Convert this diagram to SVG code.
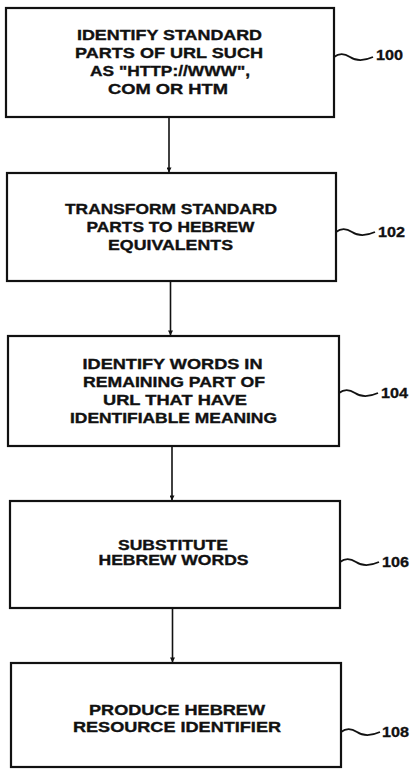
<svg xmlns="http://www.w3.org/2000/svg" width="413" height="769" viewBox="0 0 413 769">
<defs>
<style>
.box{fill:#fff;stroke:#111;stroke-width:2.2}
.t{font-family:"Liberation Sans",Arial,sans-serif;font-weight:bold;font-size:15px;fill:#111;stroke:#111;stroke-width:0.35;text-anchor:middle}
.lbl{font-family:"Liberation Sans",Arial,sans-serif;font-weight:bold;font-size:14px;fill:#111;stroke:#111;stroke-width:0.3}
.sq{fill:none;stroke:#111;stroke-width:1.8}
.con{fill:none;stroke:#111;stroke-width:1.6}
</style>
<marker id="ah" viewBox="0 0 6 6" refX="5.5" refY="3" markerWidth="5" markerHeight="5" orient="auto" markerUnits="userSpaceOnUse">
<path d="M0,0 L6,3 L0,6 Z" fill="#111"/>
</marker>
</defs>
<rect width="413" height="769" fill="#fff"/>
<g id="connectors">
<line class="con" x1="169" y1="117" x2="169" y2="172" marker-end="url(#ah)"/>
<line class="con" x1="170.5" y1="281" x2="170.5" y2="335" marker-end="url(#ah)"/>
<line class="con" x1="172" y1="446" x2="172" y2="500" marker-end="url(#ah)"/>
<line class="con" x1="172.5" y1="608" x2="172.5" y2="662" marker-end="url(#ah)"/>
</g>
<g id="node100">
<rect class="box" x="6" y="8" width="328" height="109"/>
<text class="t" x="169.5" y="40" textLength="185" lengthAdjust="spacingAndGlyphs">IDENTIFY STANDARD</text>
<text class="t" x="169" y="57.5" textLength="188" lengthAdjust="spacingAndGlyphs">PARTS OF URL SUCH</text>
<text class="t" x="170" y="75.5" textLength="160" lengthAdjust="spacingAndGlyphs">AS "HTTP://WWW",</text>
<text class="t" x="168" y="93.5" textLength="120" lengthAdjust="spacingAndGlyphs">COM OR HTM</text>
<path class="sq" d="M334,57 c5,-4 10,-4 16,0 s 14,4 23,0"/>
<text class="lbl" x="376" y="60" textLength="27" lengthAdjust="spacingAndGlyphs">100</text>
</g>
<g id="node102">
<rect class="box" x="7" y="173" width="329" height="108"/>
<text class="t" x="171" y="213.5" textLength="212" lengthAdjust="spacingAndGlyphs">TRANSFORM STANDARD</text>
<text class="t" x="170.5" y="231.5" textLength="168" lengthAdjust="spacingAndGlyphs">PARTS TO HEBREW</text>
<text class="t" x="170.5" y="249.5" textLength="125" lengthAdjust="spacingAndGlyphs">EQUIVALENTS</text>
<path class="sq" d="M336,232 c5,-4 10,-4 16,0 s 14,4 23,0"/>
<text class="lbl" x="378" y="237" textLength="27" lengthAdjust="spacingAndGlyphs">102</text>
</g>
<g id="node104">
<rect class="box" x="8" y="336" width="331" height="110"/>
<text class="t" x="172.5" y="369" textLength="180" lengthAdjust="spacingAndGlyphs">IDENTIFY WORDS IN</text>
<text class="t" x="174" y="387" textLength="182" lengthAdjust="spacingAndGlyphs">REMAINING PART OF</text>
<text class="t" x="175" y="405" textLength="144" lengthAdjust="spacingAndGlyphs">URL THAT HAVE</text>
<text class="t" x="173.5" y="422.5" textLength="207" lengthAdjust="spacingAndGlyphs">IDENTIFIABLE MEANING</text>
<path class="sq" d="M339,393 c5,-4 10,-4 16,0 s 14,4 23,0"/>
<text class="lbl" x="381" y="398" textLength="27" lengthAdjust="spacingAndGlyphs">104</text>
</g>
<g id="node106">
<rect class="box" x="10" y="501" width="330" height="107"/>
<text class="t" x="173" y="549.5" textLength="110" lengthAdjust="spacingAndGlyphs">SUBSTITUTE</text>
<text class="t" x="173.5" y="565" textLength="150" lengthAdjust="spacingAndGlyphs">HEBREW WORDS</text>
<path class="sq" d="M340,562 c5,-4 10,-4 16,0 s 14,4 23,0"/>
<text class="lbl" x="382" y="567" textLength="27" lengthAdjust="spacingAndGlyphs">106</text>
</g>
<g id="node108">
<rect class="box" x="11" y="663" width="330" height="104"/>
<text class="t" x="177" y="714.5" textLength="176" lengthAdjust="spacingAndGlyphs">PRODUCE HEBREW</text>
<text class="t" x="177" y="731.5" textLength="208" lengthAdjust="spacingAndGlyphs">RESOURCE IDENTIFIER</text>
<path class="sq" d="M341,732 c5,-4 10,-4 16,0 s 14,4 23,0"/>
<text class="lbl" x="382" y="737" textLength="27" lengthAdjust="spacingAndGlyphs">108</text>
</g>
</svg>
